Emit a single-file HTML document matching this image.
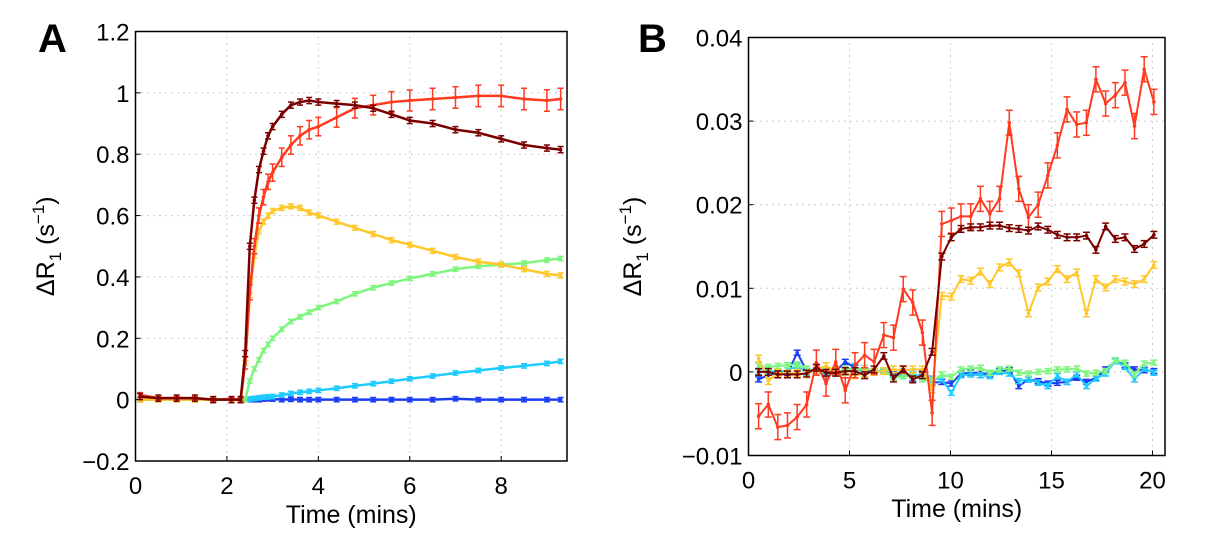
<!DOCTYPE html>
<html><head><meta charset="utf-8">
<style>
body{margin:0;background:#fff;width:1208px;height:546px;overflow:hidden}
svg{display:block;font-family:"Liberation Sans",Arial,sans-serif}
</style></head>
<body>
<svg id="fig" width="1208" height="546" viewBox="0 0 1208 546">
<text x="38" y="52" font-size="40" font-weight="bold">A</text>
<text x="638" y="52" font-size="40" font-weight="bold">B</text>
</svg>
<script>
// ---- Panel A data ----
const timesA=[0.1,0.5,0.9,1.3,1.7,2.1,2.3,2.4,2.5,2.6,2.7,2.8,2.9,3.0,3.2,3.4,3.6,3.8,4.0,4.4,4.8,5.2,5.6,6.0,6.5,7.0,7.5,8.0,8.5,9.0,9.3];
const blueA=[0,0,0,0,0,0,0,0,0,0,0,0.002,0.003,0.002,0,0.001,0,0,0,0,0,0,0,0,0,0.003,0,0,0,0,0];
const cyanA=[0,0,0,0,0,0,0,0,0.002,0.004,0.006,0.008,0.009,0.01,0.015,0.02,0.024,0.027,0.03,0.037,0.045,0.052,0.06,0.068,0.077,0.087,0.095,0.103,0.11,0.118,0.125];
const greenA=[0,0,0,0,0,0,0,0,0.06,0.1,0.13,0.16,0.18,0.2,0.23,0.255,0.27,0.285,0.3,0.32,0.345,0.365,0.38,0.395,0.41,0.425,0.435,0.44,0.445,0.455,0.46];
const yellowA=[0,0,0,0,0,0,0,0.12,0.34,0.47,0.55,0.58,0.6,0.615,0.625,0.63,0.625,0.61,0.6,0.58,0.56,0.54,0.52,0.505,0.485,0.465,0.45,0.44,0.425,0.41,0.405];
const redA=[0.015,0.005,0.005,0.005,0,0.002,0,0.12,0.35,0.5,0.6,0.66,0.71,0.74,0.79,0.83,0.86,0.88,0.89,0.92,0.95,0.96,0.97,0.975,0.98,0.985,0.99,0.99,0.98,0.975,0.98];
const redErrA=[0.008,0.005,0.005,0.005,0.005,0.005,0.005,0.02,0.025,0.025,0.025,0.025,0.025,0.028,0.03,0.03,0.03,0.03,0.03,0.032,0.032,0.032,0.034,0.034,0.035,0.035,0.035,0.035,0.035,0.035,0.035];
const maroonA=[0.01,0.005,0.005,0.005,0,0,0,0.15,0.5,0.65,0.75,0.81,0.86,0.89,0.93,0.96,0.97,0.975,0.97,0.965,0.96,0.95,0.93,0.91,0.9,0.88,0.87,0.85,0.83,0.82,0.815];
const errA=[0.007,0.007,0.007,0.008,redErrA,0.01];
const xTicksA=[0,2,4,6,8];
const yTicksA=[-0.2,0,0.2,0.4,0.6,0.8,1,1.2];
const yTickLabelsA=["\u22120.2","0","0.2","0.4","0.6","0.8","1","1.2"];
// ---- Panel B data ----
const timesB=[0.50,0.98,1.45,1.93,2.41,2.88,3.36,3.84,4.32,4.79,5.27,5.75,6.22,6.70,7.18,7.66,8.13,8.61,9.09,9.57,10.04,10.52,11.00,11.48,11.95,12.43,12.91,13.38,13.86,14.34,14.82,15.29,15.77,16.25,16.73,17.20,17.68,18.16,18.64,19.11,19.59,20.07];
const redB=[-0.0053,-0.0039,-0.0066,-0.0064,-0.0054,-0.0039,0.0011,-0.0014,0.0012,-0.0022,0.0008,0.002,0.0012,0.0044,0.0041,0.0099,0.0083,0.0047,-0.0049,0.0177,0.0181,0.0186,0.0186,0.0207,0.0189,0.0207,0.0298,0.0219,0.0185,0.02,0.0235,0.0271,0.0314,0.0296,0.0298,0.035,0.0321,0.0331,0.0346,0.0294,0.0362,0.0323];
const maroonB=[0,0,-0.0003,-0.0003,-0.0003,-0.0002,0.0005,-0.0001,-0.0001,0.0001,0.0001,-0.0004,0.0003,0.0019,-0.0008,0.0003,-0.0009,-0.0004,0.0024,0.0138,0.0161,0.0171,0.0173,0.0173,0.0175,0.0175,0.0172,0.0171,0.0169,0.0174,0.017,0.0164,0.0161,0.0161,0.0163,0.0146,0.0174,0.0159,0.0161,0.0147,0.0153,0.0164];
const yellowB=[0.0016,-0.0011,-0.0001,-0.0002,-0.0001,-0.0003,0.0003,0.0007,0.0001,-0.0003,-0.0004,-0.0002,0,0.0001,0.0003,0.0002,0.0003,0.0003,-0.0021,0.0091,0.009,0.0111,0.0109,0.012,0.0105,0.0125,0.0131,0.0118,0.007,0.0101,0.0108,0.0123,0.0111,0.0119,0.007,0.0111,0.0101,0.0111,0.0108,0.0105,0.0111,0.0128];
const greenB=[0.0007,0.0006,0.0007,0.0008,0.0009,0.0004,0.0001,0.0003,-0.0002,0.0004,0.0002,0.0005,0.0001,0.0001,-0.0007,-0.0005,-0.0005,-0.0009,-0.0011,-0.0003,-0.0006,0.0003,0.0004,0.0005,-0.0001,0.0003,0.0004,-0.0001,-0.0002,0,0.0001,0.0003,0.0003,0.0004,-0.0002,-0.0001,0.0001,0.0014,0.0011,-0.0003,0.001,0.0011];
const blueB=[-0.0009,-0.0004,-0.0001,-0.0002,0.0023,0.0001,0.0002,0,0.0001,0.0012,0.0005,0.0002,0.0001,0.0001,-0.0003,0,-0.0008,-0.0002,-0.0013,-0.0012,-0.0014,-0.0002,-0.0001,-0.0001,-0.0003,0.0001,0.0002,-0.0017,-0.0009,-0.0011,-0.0014,-0.0013,-0.0012,-0.0007,-0.0012,-0.0007,0.0003,0.0013,0.0008,0.0003,0.0002,0.0001];
const cyanB=[0,0.0001,0,0.0002,0.0007,-0.0001,0.0002,-0.0005,-0.0002,-0.0001,0.0007,-0.0003,0.0001,0.0002,-0.0004,-0.0005,-0.0003,-0.0006,-0.0008,-0.0009,-0.0025,-0.0004,-0.0003,-0.0004,-0.0005,0,-0.0002,-0.0011,-0.0009,-0.0013,-0.0017,-0.0005,-0.0012,-0.0003,-0.0017,-0.0008,-0.0002,0.0013,0.0006,-0.0009,0.0004,-0.0001];
const errB=[0.0003,0.0003,0.0003,0.0004,0.0015,0.0004];
const xTicksB=[0,5,10,15,20];
const yTicksB=[-0.01,0,0.01,0.02,0.03,0.04];
const yTickLabelsB=["\u22120.01","0","0.01","0.02","0.03","0.04"];

const colors=["#1a3cf5","#1ecbff","#7ef57e","#ffc72a","#ff3a1f","#7a0000"];
const names=["blue","cyan","green","yellow","red","maroon"];
const NS="http://www.w3.org/2000/svg";
const svg=document.getElementById('fig');
function mk(tag,attrs,parent){const e=document.createElementNS(NS,tag);for(const k in attrs)e.setAttribute(k,attrs[k]);(parent||svg).appendChild(e);return e;}

function panel(p){
  const g=mk('g',{});
  
  
  const X=v=>p.L+(v-p.x0)/(p.x1-p.x0)*(p.R-p.L);
  const Y=v=>p.B-(v-p.y0)/(p.y1-p.y0)*(p.B-p.T);
  p.xt.forEach(v=>{const x=X(v);
    if(v>p.x0&&v<p.x1){const l=mk('line',{x1:x,x2:x,y1:p.T,y2:p.B,stroke:'#999','stroke-width':1,'stroke-dasharray':'1 5'},g);
      
      }
    const t=mk('text',{x:x,y:p.B+33,'font-size':24,'text-anchor':'middle'},g);t.textContent=v;
    
    
    mk('line',{x1:x,x2:x,y1:p.B,y2:p.B-5,stroke:'#000'},g);
  });
  p.yt.forEach((v,i)=>{const y=Y(v);
    if(v>p.y0&&v<p.y1){const l=mk('line',{x1:p.L,x2:p.R,y1:y,y2:y,stroke:'#999','stroke-width':1,'stroke-dasharray':'1 5'},g);
      
      }
    const t=mk('text',{x:p.L-6,y:y+9,'font-size':24,'text-anchor':'end'},g);t.textContent=p.yl[i];
    
    
    mk('line',{x1:p.L,x2:p.L+5,y1:y,y2:y,stroke:'#000'},g);
  });
  p.series.forEach((s,si)=>{
    const sg=mk('g',{},g);
    
    
    const c=colors[si];
    const pts=p.t.map((t,i)=>X(t)+','+Y(s[i])).join(' ');
    mk('polyline',{points:pts,fill:'none',stroke:c,'stroke-width':p.lw},sg);
    p.t.forEach((t,i)=>{const x=X(t);const ev=p.err[si];const e=Array.isArray(ev)?ev[i]:ev;
      const y1=Y(s[i]+e),y2=Y(s[i]-e);
      mk('line',{x1:x,x2:x,y1:y1,y2:y2,stroke:c,'stroke-width':1.5},sg);
      mk('line',{x1:x-p.cap,x2:x+p.cap,y1:y1,y2:y1,stroke:c,'stroke-width':1.5},sg);
      mk('line',{x1:x-p.cap,x2:x+p.cap,y1:y2,y2:y2,stroke:c,'stroke-width':1.5},sg);
      const m=mk('circle',{cx:x,cy:Y(s[i]),r:1.8,fill:c},sg);
      
      
    });
  });
  const box=mk('rect',{x:p.L,y:p.T,width:p.R-p.L,height:p.B-p.T,fill:'none',stroke:'#000','stroke-width':1.5},g);
  
  
  const xl=mk('text',{x:(p.L+p.R)/2,y:p.xly,'font-size':25,'text-anchor':'middle'},g);
  xl.textContent='Time (mins)';
  
  
  const yl=mk('text',{x:0,y:0,'font-size':25,'text-anchor':'middle',transform:`translate(${p.ylx},${(p.T+p.B)/2}) rotate(-90)`},g);
  yl.innerHTML='\u0394R<tspan dy="7" font-size="17">1</tspan><tspan dy="-7"> (s</tspan><tspan dy="-10" font-size="17">\u22121</tspan><tspan dy="10">)</tspan>';
  
  
}
panel({id:'panel-a',L:135.5,R:567,T:31.5,B:461,x0:0,x1:9.44,y0:-0.2,y1:1.2,xt:xTicksA,yt:yTicksA,yl:yTickLabelsA,
  t:timesA,series:[blueA,cyanA,greenA,yellowA,redA,maroonA],err:errA,lw:2.5,cap:3,xly:523,ylx:54});
panel({id:'panel-b',L:748.5,R:1165,T:37.5,B:455.5,x0:0,x1:20.62,y0:-0.01,y1:0.04,xt:xTicksB,yt:yTicksB,yl:yTickLabelsB,
  t:timesB,series:[blueB,cyanB,greenB,yellowB,redB,maroonB],err:errB,lw:2,cap:3.5,xly:517,ylx:641});
</script>
</body></html>
